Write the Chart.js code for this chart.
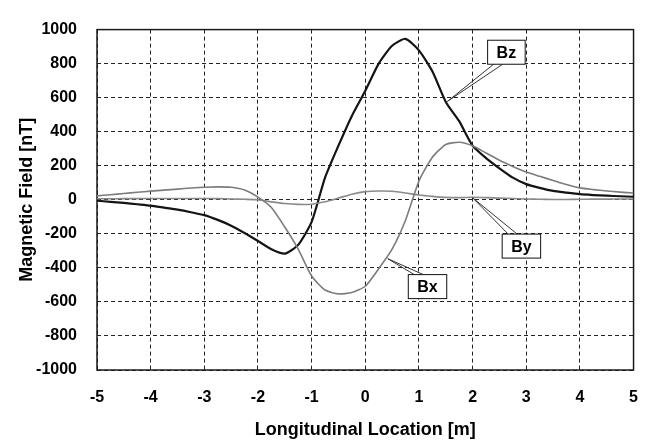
<!DOCTYPE html>
<html>
<head>
<meta charset="utf-8">
<title>Magnetic Field</title>
<script src="https://cdn.jsdelivr.net/npm/chart.js@4"></script>
<style>
  body { margin: 0; background: #fff; }
  #wrap { width: 656px; height: 443px; }
</style>
</head>
<body>
<div id="wrap"><canvas id="fieldChart" width="656" height="443"></canvas></div>
<script>
// Positions le long de l'axe [m]
const xs = [-5, -4.75, -4.5, -4.25, -4, -3.75, -3.5, -3.25, -3, -2.75, -2.5, -2.25, -2, -1.75, -1.5, -1.25, -1, -0.75, -0.5, -0.25,
  0, 0.25, 0.5, 0.75, 1, 1.25, 1.5, 1.75, 2, 2.25, 2.5, 2.75, 3, 3.25, 3.5, 3.75, 4, 4.25, 4.5, 4.75, 5];

// Valeurs [nT]
const bz = [-5, -12, -18, -26, -34, -46, -58, -73, -90, -118, -152, -195, -242, -290, -316, -265, -130, 130, 318, 493,
  640, 800, 905, 946, 878, 755, 575, 462, 318, 245, 185, 130, 92, 70, 52, 42, 33, 28, 24, 21, 18];
const bx = [23, 30, 37, 44, 51, 57, 63, 69, 74, 76, 74, 58, 16, -45, -160, -290, -448, -530, -553, -545,
  -508, -405, -290, -120, 110, 250, 325, 338, 317, 275, 232, 196, 163, 138, 114, 90, 70, 60, 52, 45, 40];
const by = [6, 6, 7, 7, 8, 8, 8, 8, 8, 7, 5, 3, 0, -12, -22, -27, -26, -12, 10, 33,
  48, 52, 50, 40, 28, 20, 14, 13, 15, 13, 10, 8, 5, 3, 2, 2, 3, 4, 4, 5, 5];

// Graduations
const xTicks = [-5, -4, -3, -2, -1, 0, 1, 2, 3, 4, 5];
const yTicks = [-1000, -800, -600, -400, -200, 0, 200, 400, 600, 800, 1000];

// Étiquettes des courbes : boîte et point visé (en unités des données)
const callouts = [
  { label: 'Bz', boxX: 2.63, boxY: 867, pointX: 1.53, pointY: 578 },
  { label: 'By', boxX: 2.91, boxY: -272, pointX: 2.0, pointY: 12 },
  { label: 'Bx', boxX: 1.16, boxY: -510, pointX: 0.42, pointY: -346 }
];

const FONT = "Arial, 'Liberation Sans', sans-serif";

const toPoints = (vals) => xs.map((x, i) => ({ x: x, y: vals[i] }));

// Cadre plein autour de la zone de tracé
const framePlugin = {
  id: 'frame',
  beforeDatasetsDraw(chart) {
    const { ctx, chartArea: a } = chart;
    ctx.save();
    ctx.strokeStyle = '#1a1a1a';
    ctx.lineWidth = 1.5;
    ctx.strokeRect(a.left, a.top, a.right - a.left, a.bottom - a.top);
    ctx.restore();
  }
};

// Boîtes d'étiquettes avec leur flèche
const calloutPlugin = {
  id: 'callouts',
  afterDatasetsDraw(chart) {
    const { ctx, scales } = chart;
    ctx.save();
    ctx.font = 'bold 16px ' + FONT;
    callouts.forEach(c => {
      const bx0 = scales.x.getPixelForValue(c.boxX);
      const by0 = scales.y.getPixelForValue(c.boxY);
      const ax = scales.x.getPixelForValue(c.pointX);
      const ay = scales.y.getPixelForValue(c.pointY);
      const w = ctx.measureText(c.label).width + 18;
      const h = 24;
      const left = bx0 - w / 2, top = by0 - h / 2;
      // la flèche part du bord le plus proche
      const edgeY = ay < top ? top : top + h;
      const px = Math.min(Math.max(ax, left + 6), left + w - 15);
      ctx.strokeStyle = '#333';
      ctx.lineWidth = 1;
      ctx.beginPath();
      ctx.moveTo(px, edgeY);
      ctx.lineTo(ax, ay);
      ctx.moveTo(px + 9, edgeY);
      ctx.lineTo(ax, ay);
      ctx.stroke();
      ctx.fillStyle = '#fff';
      ctx.fillRect(left, top, w, h);
      ctx.strokeStyle = '#111';
      ctx.strokeRect(left, top, w, h);
      ctx.fillStyle = '#000';
      ctx.textAlign = 'center';
      ctx.textBaseline = 'middle';
      ctx.fillText(c.label, bx0, by0 + 1);
    });
    ctx.restore();
  }
};

document.addEventListener('DOMContentLoaded', () => {
  const canvas = document.getElementById('fieldChart');

  const data = {
    datasets: [
      { label: 'Bx', data: toPoints(bx), borderColor: '#7c7c7c', borderWidth: 1.6 },
      { label: 'By', data: toPoints(by), borderColor: '#8a8a8a', borderWidth: 1.6 },
      { label: 'Bz', data: toPoints(bz), borderColor: '#141414', borderWidth: 2.2 }
    ]
  };

  const config = {
    type: 'line',
    data: data,
    options: {
      responsive: false,
      animation: false,
      layout: { padding: { top: 17, right: 16, left: 0, bottom: 0 } },
      elements: {
        point: { radius: 0 },
        line: { tension: 0.2, fill: false }
      },
      plugins: {
        legend: { display: false },
        tooltip: { enabled: false }
      },
      scales: {
        x: {
          type: 'linear',
          min: -5,
          max: 5,
          afterFit: (s) => { s.height = 73; },
          afterBuildTicks: (s) => { s.ticks = xTicks.map(v => ({ value: v })); },
          grid: { color: '#222', lineWidth: 1, drawTicks: false },
          border: { display: false, dash: [4, 3] },
          ticks: {
            color: '#000', padding: 18, maxRotation: 0,
            font: { family: FONT, size: 16, weight: 'bold' },
            callback: (v) => String(v)
          },
          title: {
            display: true,
            text: 'Longitudinal Location [m]',
            color: '#000',
            padding: { top: 0, bottom: 2 },
            font: { family: FONT, size: 18, weight: 'bold' }
          }
        },
        y: {
          min: -1000,
          max: 1000,
          afterFit: (s) => { s.width = 97; },
          afterBuildTicks: (s) => { s.ticks = yTicks.map(v => ({ value: v })); },
          grid: { color: '#222', lineWidth: 1, drawTicks: false },
          border: { display: false, dash: [4, 3] },
          ticks: {
            color: '#000', padding: 20,
            font: { family: FONT, size: 16, weight: 'bold' },
            callback: (v) => String(v)
          },
          title: {
            display: true,
            text: 'Magnetic Field [nT]',
            color: '#000',
            padding: { top: 16, bottom: 0 },
            font: { family: FONT, size: 18, weight: 'bold' }
          }
        }
      }
    },
    plugins: [framePlugin, calloutPlugin]
  };

  new Chart(canvas, config);
});
</script>
</body>
</html>
